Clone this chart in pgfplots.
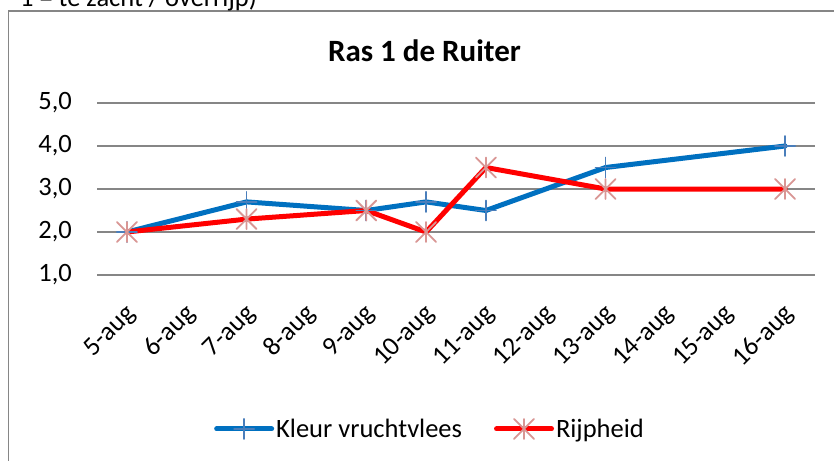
\documentclass[border=0pt]{standalone}
\usepackage{fontspec}
\setmainfont{Carlito}
\usepackage{pgfplots}
\pgfplotsset{compat=1.18}
\definecolor{kleur}{HTML}{0070C0}
\definecolor{plusc}{HTML}{4A7EBB}
\definecolor{rijp}{HTML}{FF0000}
\definecolor{starc}{HTML}{D99694}
\definecolor{gridc}{HTML}{868686}
\pgfdeclareplotmark{xstar}{%
 \pgfpathmoveto{\pgfqpoint{0pt}{-\pgfplotmarksize}}%
 \pgfpathlineto{\pgfqpoint{0pt}{\pgfplotmarksize}}%
 \pgfpathmoveto{\pgfqpoint{-\pgfplotmarksize}{-\pgfplotmarksize}}%
 \pgfpathlineto{\pgfqpoint{\pgfplotmarksize}{\pgfplotmarksize}}%
 \pgfpathmoveto{\pgfqpoint{-\pgfplotmarksize}{\pgfplotmarksize}}%
 \pgfpathlineto{\pgfqpoint{\pgfplotmarksize}{-\pgfplotmarksize}}%
 \pgfusepathqstroke}
\begin{document}
\begin{tikzpicture}[x=1pt,y=1pt]
\useasboundingbox (0,0) rectangle (834,460);
\clip (0,0) rectangle (834,460);
\fill[white] (0,0) rectangle (834,460);
\draw[gridc, line width=1.5pt] (8.5,-5) -- (8.5,449) -- (840,449);
\node[anchor=base east, inner sep=0pt, font=\fontsize{26.5}{30}\selectfont] at (257,453.5) {1 = te zacht / overrijp)};
\node[anchor=base, inner sep=0pt, font=\bfseries\fontsize{31}{36}\selectfont] at (424.5,398) {Ras 1 de Ruiter};
\begin{axis}[
  at={(97pt,185pt)}, anchor=south west,
  scale only axis, width=718pt, height=172pt,
  xmin=-0.5, xmax=11.5, ymin=1, ymax=5,
  clip=false,
  axis line style={draw=none},
  ymajorgrids, grid style={gridc, line width=1.5pt},
  major tick length=0pt,
  ytick={1,2,3,4,5},
  yticklabels={{1,0},{2,0},{3,0},{4,0},{5,0}},
  xtick={0,...,11},
  xticklabels={5-aug,6-aug,7-aug,8-aug,9-aug,10-aug,11-aug,12-aug,13-aug,14-aug,15-aug,16-aug},
  tick label style={font=\fontsize{26.5}{30}\selectfont},
  yticklabel style={inner sep=0pt, xshift=-25pt},
  xticklabel style={inner sep=0pt, yshift=-35pt, xshift=5pt, rotate=45, anchor=east},
  legend columns=2,
  legend style={at={(0.4638,-0.895)}, anchor=center, draw=none, fill=none,
    font=\fontsize{26.5}{30}\selectfont, nodes={inner sep=2pt},
    /tikz/every even column/.append style={column sep=30pt}},
  legend image code/.code={\draw[mark repeat=2,mark phase=2,#1] plot coordinates {(0pt,0pt) (27.5pt,0pt) (55pt,0pt)};},
]
\addplot[kleur, line width=5pt, line join=round, line cap=round, mark=+, mark size=10pt,
  mark options={plusc, line width=1.8pt, solid}]
  coordinates {(0,2.0) (2,2.7) (4,2.5) (5,2.7) (6,2.5) (8,3.5) (11,4.0)};
\addlegendentry{Kleur vruchtvlees}
\addplot[rijp, line width=5pt, line join=round, line cap=round, mark=xstar, mark size=10pt,
  mark options={starc, line width=1.8pt, solid}]
  coordinates {(0,2.0) (2,2.3) (4,2.5) (5,2.0) (6,3.5) (8,3.0) (11,3.0)};
\addlegendentry{Rijpheid}
\end{axis}
\end{tikzpicture}
\end{document}
